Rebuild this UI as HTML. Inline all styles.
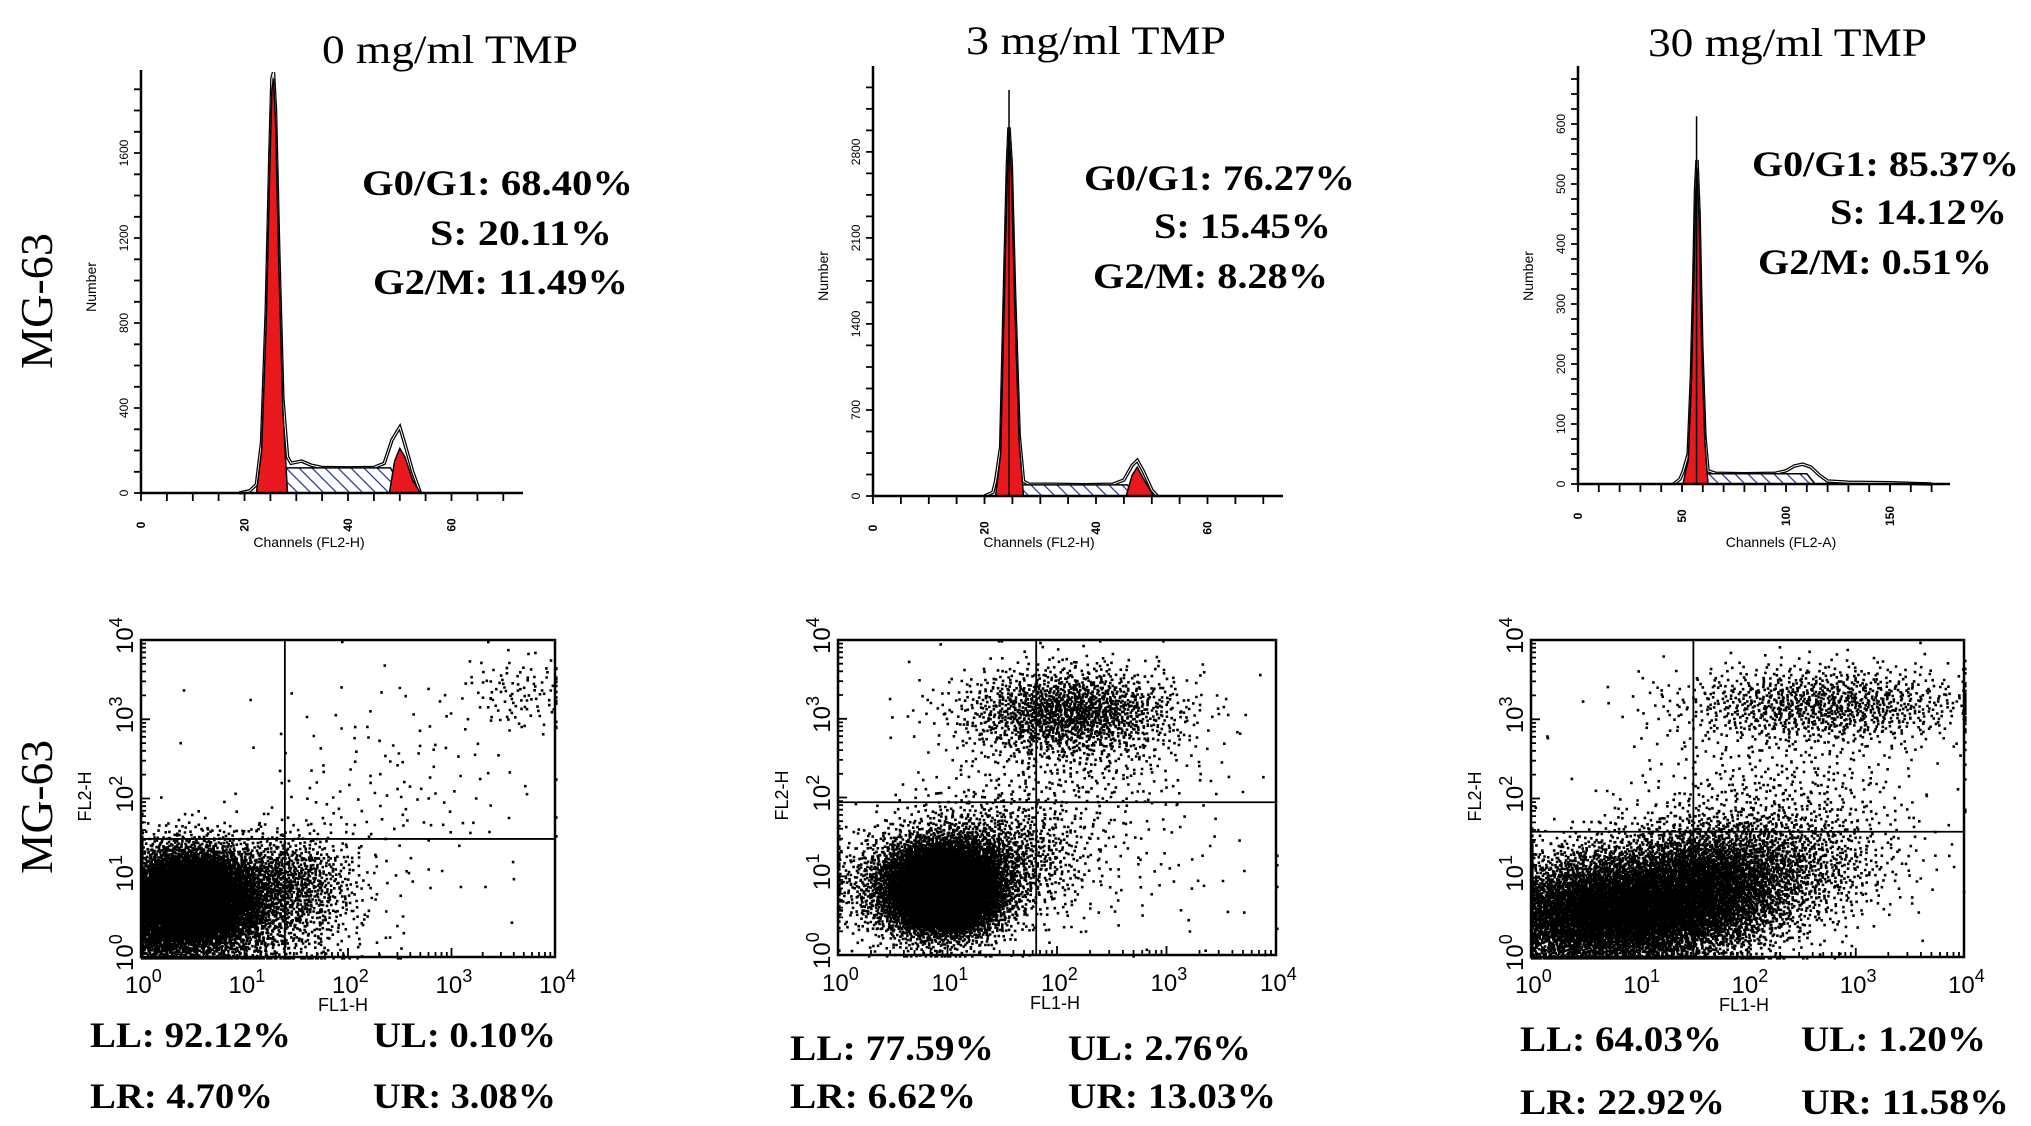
<!DOCTYPE html>
<html><head><meta charset="utf-8"><style>
html,body{margin:0;padding:0;background:#fff;}
svg{display:block;}
.ser{font-family:"Liberation Serif",serif;}
.san{font-family:"Liberation Sans",sans-serif;}
</style></head><body>
<svg id="fig" width="2031" height="1126" viewBox="0 0 2031 1126" xmlns="http://www.w3.org/2000/svg">
<defs>
<pattern id="hatch" patternUnits="userSpaceOnUse" width="13" height="13">
<rect width="13" height="13" fill="#fff"/>
<path d="M-2,-2 L15,15 M-2,11 L2,15 M11,-2 L15,2" stroke="#2b3a9e" stroke-width="1.3"/>
</pattern>
</defs>
<g class="ser" font-size="40" fill="#000">
<text x="322" y="63" textLength="256" lengthAdjust="spacingAndGlyphs">0 mg/ml TMP</text>
<text x="966" y="54" textLength="260" lengthAdjust="spacingAndGlyphs">3 mg/ml TMP</text>
<text x="1648" y="56" textLength="279" lengthAdjust="spacingAndGlyphs">30 mg/ml TMP</text>
<text font-size="46" transform="translate(52,369) rotate(-90)" textLength="136" lengthAdjust="spacingAndGlyphs">MG-63</text>
<text font-size="46" transform="translate(52,874) rotate(-90)" textLength="134" lengthAdjust="spacingAndGlyphs">MG-63</text>
</g>
<g class="ser" font-weight="bold" font-size="36" fill="#000">
<text x="362" y="195" textLength="271" lengthAdjust="spacingAndGlyphs">G0/G1: 68.40%</text>
<text x="430" y="245" textLength="182" lengthAdjust="spacingAndGlyphs">S: 20.11%</text>
<text x="373" y="294" textLength="255" lengthAdjust="spacingAndGlyphs">G2/M: 11.49%</text>
<text x="1084" y="190" textLength="271" lengthAdjust="spacingAndGlyphs">G0/G1: 76.27%</text>
<text x="1154" y="238" textLength="177" lengthAdjust="spacingAndGlyphs">S: 15.45%</text>
<text x="1093" y="288" textLength="235" lengthAdjust="spacingAndGlyphs">G2/M: 8.28%</text>
<text x="1752" y="176" textLength="267" lengthAdjust="spacingAndGlyphs">G0/G1: 85.37%</text>
<text x="1830" y="224" textLength="177" lengthAdjust="spacingAndGlyphs">S: 14.12%</text>
<text x="1758" y="274" textLength="234" lengthAdjust="spacingAndGlyphs">G2/M: 0.51%</text>

<text x="90" y="1047" textLength="201" lengthAdjust="spacingAndGlyphs">LL: 92.12%</text>
<text x="373" y="1047" textLength="183" lengthAdjust="spacingAndGlyphs">UL: 0.10%</text>
<text x="90" y="1108" textLength="183" lengthAdjust="spacingAndGlyphs">LR: 4.70%</text>
<text x="373" y="1108" textLength="183" lengthAdjust="spacingAndGlyphs">UR: 3.08%</text>
<text x="790" y="1060" textLength="204" lengthAdjust="spacingAndGlyphs">LL: 77.59%</text>
<text x="1068" y="1060" textLength="183" lengthAdjust="spacingAndGlyphs">UL: 2.76%</text>
<text x="790" y="1108" textLength="186" lengthAdjust="spacingAndGlyphs">LR: 6.62%</text>
<text x="1068" y="1108" textLength="208" lengthAdjust="spacingAndGlyphs">UR: 13.03%</text>
<text x="1520" y="1051" textLength="202" lengthAdjust="spacingAndGlyphs">LL: 64.03%</text>
<text x="1801" y="1051" textLength="185" lengthAdjust="spacingAndGlyphs">UL: 1.20%</text>
<text x="1520" y="1114" textLength="205" lengthAdjust="spacingAndGlyphs">LR: 22.92%</text>
<text x="1801" y="1114" textLength="208" lengthAdjust="spacingAndGlyphs">UR: 11.58%</text>
</g>
<g id="plots"></g>
</svg>
<script>
// ---------- Histogram data (channel, count) ----------
const h1G1Ch=[22.3,23.3,24.2,24.9,25.3,25.6,26.0,26.6,27.4,28.3];
const h1G1Ct=[0,200,800,1550,1900,1950,1750,1100,400,0];
const h1EnvCh=[19,21,22.3,23.3,24.2,24.9,25.3,25.6,26.0,26.6,27.4,28.3,29,31,33,35,40,45,47,48.5,50,51,52.5,54];
const h1EnvCt=[0,10,40,240,850,1600,1950,1980,1800,1150,450,170,140,150,130,120,118,120,140,250,310,230,100,0];
const h1SCh=[26.0,27.6,48.2,51.0];
const h1SCt=[0,118,118,0];
const h1G2Ch=[48.0,49.0,50.0,51.0,52.5,54.0];
const h1G2Ct=[0,150,210,170,60,0];
const h1XTicks=[0,20,40,60];
const h1YTicks=[0,400,800,1200,1600];

const h2G1Ch=[22.0,22.9,23.6,24.1,24.4,24.8,25.4,26.2,27.0];
const h2G1Ct=[0,350,1700,2650,2970,2650,1600,450,0];
const h2EnvCh=[20,21.5,22.0,22.9,23.6,24.1,24.4,24.8,25.4,26.2,27.0,28,32,38,43,45,46.5,47.4,48.5,50,51];
const h2EnvCt=[0,30,120,400,1750,2700,3000,2700,1650,500,120,95,95,92,95,130,250,290,200,50,0];
const h2Spike=[24.4,3305];
const h2SCh=[24.5,26.0,45.6,47.5];
const h2SCt=[0,90,90,0];
const h2G2Ch=[45.4,46.5,47.4,48.4,50.3];
const h2G2Ct=[0,170,235,150,0];
const h2XTicks=[0,20,40,60];
const h2YTicks=[0,700,1400,2100,2800];

const h3G1Ch=[50.5,53,54.5,55.7,56.5,57.2,58.2,59.5,61,62.5];
const h3G1Ct=[0,40,170,340,480,528,440,220,70,0];
const h3EnvCh=[46,49,50.5,53,54.5,55.7,56.5,57.2,58.2,59.5,61,62.5,66,80,95,100,104,108,112,116,120,130,150,170];
const h3EnvCt=[0,8,20,50,180,350,490,540,450,230,80,22,18,17,18,22,30,33,28,15,5,3,2,0];
const h3Spike=[57.0,613];
const h3SCh=[56,62,110,114];
const h3SCt=[0,17,17,0];
const h3XTicks=[0,50,100,150];
const h3YTicks=[0,100,200,300,400,500,600];

// ---------- Scatter data (log10 units) ----------
const sc1CenterX=[0.5,1.4,2.4,3.65,0.9,0.2];
const sc1CenterY=[0.75,0.95,2.1,3.35,0.3,0.5];
const sc1SdX=[0.35,0.35,0.75,0.3,0.6,0.2];
const sc1SdY=[0.33,0.33,0.75,0.25,0.3,0.4];
const sc1Count=[6500,900,160,110,700,1200];
const sc1Quad=[1.39,1.49];

const sc2CenterX=[0.95,1.35,2.1,2.2,2.5,0.4];
const sc2CenterY=[0.85,1.25,3.1,2.5,1.0,0.9];
const sc2SdX=[0.28,0.45,0.5,0.6,0.8,0.3];
const sc2SdY=[0.3,0.4,0.28,0.6,0.5,0.35];
const sc2Count=[7000,1300,1500,450,90,400];
const sc2Quad=[1.81,1.94];

const sc3CenterX=[0.9,1.6,2.3,2.7,2.3,0.3];
const sc3CenterY=[0.6,0.9,1.2,3.2,2.1,0.5];
const sc3SdX=[0.55,0.45,0.55,0.7,0.7,0.3];
const sc3SdY=[0.4,0.4,0.4,0.25,0.5,0.35];
const sc3Count=[5500,3000,1100,1100,380,1400];
const sc3Quad=[1.5,1.58];

const NS='http://www.w3.org/2000/svg';
const root=document.getElementById('plots');
function mk(tag,attrs,parent){const e=document.createElementNS(NS,tag);for(const k in attrs)e.setAttribute(k,attrs[k]);(parent||root).appendChild(e);return e;}

function histogram(id,L,d){
  const g=mk('g',{});
  
  
  const xS=c=>L.x0+c*L.pxCh, yS=v=>L.base-v*L.pxCt;
  const pts=(a,b)=>a.map((c,i)=>xS(c).toFixed(1)+','+yS(b[i]).toFixed(1)).join(' ');
  const env=mk('polyline',{points:pts(d.envCh,d.envCt),fill:'none',stroke:'#000','stroke-width':3.5},g);
  
  
  mk('polyline',{points:pts(d.envCh,d.envCt),fill:'none',stroke:'#fff','stroke-width':1},g);
  const s=mk('polygon',{points:pts(d.sCh,d.sCt),fill:'url(#hatch)',stroke:'#000','stroke-width':1.5},g);
  
  
  const r=mk('polygon',{points:pts(d.g1Ch,d.g1Ct),fill:'#e8181c',stroke:'#000','stroke-width':1.5},g);
  
  
  if(d.g2Ch){const r2=mk('polygon',{points:pts(d.g2Ch,d.g2Ct),fill:'#e8181c',stroke:'#000','stroke-width':1.5},g);
    
    }
  if(d.spike){const sp=mk('line',{x1:xS(d.spike[0]),x2:xS(d.spike[0]),y1:L.base,y2:yS(d.spike[1]),stroke:'#000','stroke-width':1.5},g);
    
    }
  const ax=mk('path',{d:`M${L.x0},${L.top}V${L.base}H${L.xEnd}`,stroke:'#000','stroke-width':2.5,fill:'none'},g);
  
  
  let t='';
  for(let c=0;xS(c)<=L.xEnd;c+=L.xMinor)t+=`M${xS(c).toFixed(1)},${L.base}v8`;
  for(let v=0;yS(v)>=L.top;v+=L.yMinor)t+=`M${L.x0},${yS(v).toFixed(1)}h-7`;
  mk('path',{d:t,stroke:'#000','stroke-width':1.8},g);
  d.xTicks.forEach(c=>{const tx=mk('text',{class:'san','font-size':12,'font-weight':'bold',transform:`translate(${xS(c)+4},${L.base+32}) rotate(-90)`,'text-anchor':'middle'},g);tx.textContent=c;
    
    });
  d.yTicks.forEach(v=>{const tx=mk('text',{class:'san','font-size':12,transform:`translate(${L.x0-13},${yS(v)}) rotate(-90)`,'text-anchor':'middle'},g);tx.textContent=v;
    
    });
  const xl=mk('text',{class:'san','font-size':14,x:L.xLab,y:547,'text-anchor':'middle'},g);xl.textContent=L.xTitle;
  
  
  const yl=mk('text',{class:'san','font-size':14,transform:`translate(${L.x0-45},${L.yLab}) rotate(-90)`,'text-anchor':'middle'},g);yl.textContent='Number';
  
  
}

histogram('histogram-0mg',{x0:141,pxCh:5.175,base:493,pxCt:0.2125,top:70,xEnd:523,xMinor:5,yMinor:100,xLab:309,yLab:287,xTitle:'Channels (FL2-H)'},
 {g1Ch:h1G1Ch,g1Ct:h1G1Ct,envCh:h1EnvCh,envCt:h1EnvCt,sCh:h1SCh,sCt:h1SCt,g2Ch:h1G2Ch,g2Ct:h1G2Ct,xTicks:h1XTicks,yTicks:h1YTicks});
histogram('histogram-3mg',{x0:873,pxCh:5.575,base:496,pxCt:0.1229,top:66,xEnd:1283,xMinor:5,yMinor:175,xLab:1039,yLab:276,xTitle:'Channels (FL2-H)'},
 {g1Ch:h2G1Ch,g1Ct:h2G1Ct,envCh:h2EnvCh,envCt:h2EnvCt,sCh:h2SCh,sCt:h2SCt,g2Ch:h2G2Ch,g2Ct:h2G2Ct,spike:h2Spike,xTicks:h2XTicks,yTicks:h2YTicks});
histogram('histogram-30mg',{x0:1578,pxCh:2.08,base:484,pxCt:0.6,top:66,xEnd:1950,xMinor:10,yMinor:25,xLab:1781,yLab:276,xTitle:'Channels (FL2-A)'},
 {g1Ch:h3G1Ch,g1Ct:h3G1Ct,envCh:h3EnvCh,envCt:h3EnvCt,sCh:h3SCh,sCt:h3SCt,spike:h3Spike,xTicks:h3XTicks,yTicks:h3YTicks});

function halton(i,b){let f=1,r=0;while(i>0){f/=b;r+=f*(i%b);i=Math.floor(i/b);}return r;}
function scatter(id,B,cx,cy,sx,sy,cnt,quad,labX){
  const g=mk('g',{});
  
  
  const dx=(B.r-B.l)/4, dy=(B.b-B.t)/4;
  const xS=v=>B.l+Math.max(0,Math.min(4,v))*dx, yS=v=>B.b-Math.max(0,Math.min(4,v))*dy;
  let p='',k=1;
  cx.forEach((c,ci)=>{for(let n=0;n<cnt[ci];n++,k++){
    const u1=Math.max(1e-6,halton(k,2)),u2=halton(k,3);
    const rr=Math.sqrt(-2*Math.log(u1));
    const lx=c+sx[ci]*rr*Math.cos(2*Math.PI*u2), ly=cy[ci]+sy[ci]*rr*Math.sin(2*Math.PI*u2);
    p+=`M${xS(lx).toFixed(1)},${yS(ly).toFixed(1)}h2.6v2.6h-2.6z`;}});
  const dots=mk('path',{d:p,fill:'#000'},g);
  
  
  const box=mk('rect',{x:B.l,y:B.t,width:B.r-B.l,height:B.b-B.t,fill:'none',stroke:'#000','stroke-width':2.5},g);
  
  
  const q=mk('path',{d:`M${xS(quad[0])},${B.t}V${B.b}M${B.l},${yS(quad[1])}H${B.r}`,stroke:'#000','stroke-width':1.8},g);
  
  
  let t='';
  for(let d=0;d<4;d++)for(let m=1;m<=10;m++){const o=d+Math.log10(m);const len=(m===1||m===10)?9:5;
    t+=`M${xS(o).toFixed(1)},${B.b}v-${len}M${B.l},${yS(o).toFixed(1)}h${len}`;}
  mk('path',{d:t,stroke:'#000','stroke-width':1.8},g);
  for(let d=0;d<=4;d++){
    const tx=mk('text',{class:'san','font-size':24,x:xS(d)-16,y:B.b+36},g);
    tx.innerHTML='10<tspan dy="-11" font-size="18">'+d+'</tspan>';
    
    
    const ty=mk('text',{class:'san','font-size':24,transform:`translate(${B.l-8},${yS(d)+14}) rotate(-90)`},g);
    ty.innerHTML='10<tspan dy="-11" font-size="18">'+d+'</tspan>';
    
    
  }
  const xl=mk('text',{class:'san','font-size':18,x:labX,y:B.b+54,'text-anchor':'middle'},g);xl.textContent='FL1-H';
  
  
  const yl=mk('text',{class:'san','font-size':18,transform:`translate(${B.l-50},${(B.t+B.b)/2-2}) rotate(-90)`,'text-anchor':'middle'},g);yl.textContent='FL2-H';
  
  
}
scatter('scatter-0mg',{l:141,r:555,t:640,b:957},sc1CenterX,sc1CenterY,sc1SdX,sc1SdY,sc1Count,sc1Quad,343);
scatter('scatter-3mg',{l:838,r:1276,t:640,b:955},sc2CenterX,sc2CenterY,sc2SdX,sc2SdY,sc2Count,sc2Quad,1055);
scatter('scatter-30mg',{l:1531,r:1964,t:640,b:957},sc3CenterX,sc3CenterY,sc3SdX,sc3SdY,sc3Count,sc3Quad,1744);
</script>
</body></html>
